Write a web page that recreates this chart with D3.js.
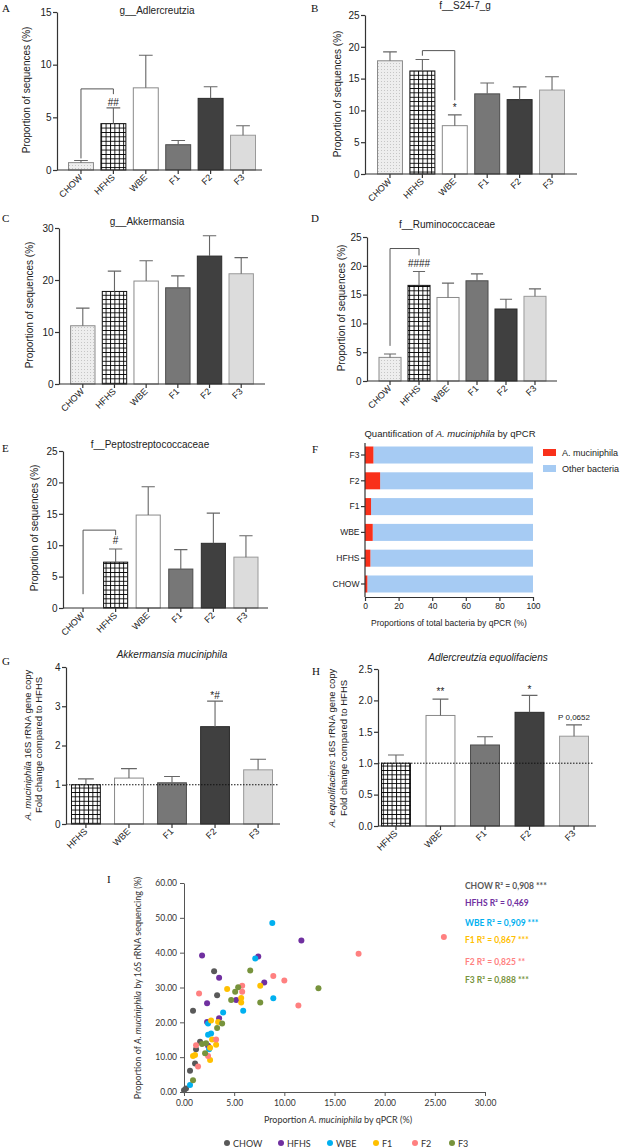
<!DOCTYPE html>
<html><head><meta charset="utf-8">
<script src="https://cdn.jsdelivr.net/npm/d3@7"></script>
<style>
body{margin:0;background:#fff}
svg{display:block}
text{font-family:"Liberation Sans",Arial,sans-serif}
</style>
</head><body>
<svg id="c" width="620" height="1147"></svg>
<script>
// ---------------- DATA ----------------
const groups6 = ["CHOW","HFHS","WBE","F1","F2","F3"];
const groups5 = ["HFHS","WBE","F1","F2","F3"];

const adlerMean = [0.7,4.4,7.8,2.4,6.8,3.3];
const adlerSem  = [0.2,1.5,3.1,0.4,1.1,0.9];
const s24Mean   = [17.8,16.2,7.6,12.6,11.7,13.2];
const s24Sem    = [1.4,1.8,1.7,1.7,2.0,2.1];
const akkMean   = [11.2,17.8,19.8,18.5,24.6,21.2];
const akkSem    = [3.4,3.9,3.9,2.3,3.9,3.1];
const rumMean   = [4.1,16.6,14.5,17.4,12.5,14.7];
const rumSem    = [0.6,2.4,2.5,1.2,1.7,1.3];
const pepMean   = [0,7.3,14.8,6.2,10.3,8.1];
const pepSem    = [0,2.1,4.5,3.1,4.8,3.4];

const qpcrCats  = ["F3","F2","F1","WBE","HFHS","CHOW"];
const qpcrAmuc  = [5.0,9.0,3.6,4.6,3.2,1.4];

const amucFoldMean = [1.0,1.17,1.05,2.48,1.38];
const amucFoldSem  = [0.15,0.24,0.16,0.65,0.27];
const adeqFoldMean = [1.0,1.76,1.29,1.81,1.43];
const adeqFoldSem  = [0.13,0.26,0.13,0.27,0.18];

const chowPts = [[3.0,34.7],[3.3,27.8],[0.9,23.3],[1.6,14.4],[1.2,12.3],[1.1,8.2],[0.6,6.1],[0.2,1.0],[0.0,0.5]];
const hfhsPts = [[11.7,43.5],[1.8,39.2],[7.4,38.9],[3.5,32.8],[8.0,31.4],[5.2,26.4],[2.3,25.5],[3.5,21.2],[2.3,20.1],[2.4,13.3]];
const wbePts  = [[8.8,48.5],[7.1,38.3],[8.9,26.9],[5.9,23.3],[3.9,22.8],[2.4,19.7],[2.7,16.8],[2.4,16.4],[2.5,12.3],[0.6,2.0]];
const f1Pts   = [[7.6,30.5],[4.3,29.6],[5.7,27.0],[5.7,25.7],[2.7,20.5],[3.4,20.1],[2.8,15.1],[3.2,13.6],[2.6,12.7],[1.1,10.6],[0.9,10.3],[2.6,9.2]];
const f2Pts   = [[25.9,44.5],[17.4,39.7],[8.9,33.3],[10.0,32.0],[5.8,30.5],[5.8,28.8],[1.5,28.3],[11.4,24.8],[3.2,15.1],[1.2,13.4],[2.4,10.3],[1.4,7.3]];
const f3Pts   = [[6.6,34.9],[13.4,29.8],[5.4,30.1],[5.1,28.8],[4.7,26.4],[7.6,25.7],[3.8,19.7],[3.3,18.4],[1.8,13.8],[2.2,14.0],[2.1,11.1],[0.9,3.4]];
const r2Vals  = [0.908,0.469,0.909,0.867,0.825,0.888];
const r2Sig   = ["***","","***","***","**","***"];

// ---------------- STYLE ----------------
const svg = d3.select("#c");
const defs = svg.append("defs");
const stip = defs.append("pattern").attr("id","stip").attr("patternUnits","userSpaceOnUse").attr("width",3).attr("height",3);
stip.append("rect").attr("width",3).attr("height",3).attr("fill","#eeeeee");
stip.append("rect").attr("width",1).attr("height",1).attr("fill","#c6c6c6");
const grid = defs.append("pattern").attr("id","grid").attr("patternUnits","userSpaceOnUse").attr("width",4.4).attr("height",4.4);
grid.append("rect").attr("width",4.4).attr("height",4.4).attr("fill","#fff");
grid.append("path").attr("d","M0,0.5H4.4M0.5,0V4.4").attr("stroke","#000").attr("stroke-width",0.9);

const barFill = {CHOW:"url(#stip)",HFHS:"url(#grid)",WBE:"#ffffff",F1:"#777777",F2:"#404040",F3:"#dcdcdc"};
const barStroke = {CHOW:"#8a8a8a",HFHS:"#111",WBE:"#8a8a8a",F1:"#4d4d4d",F2:"#2b2b2b",F3:"#9a9a9a"};
const grpColor = {CHOW:"#595959",HFHS:"#7030a0",WBE:"#00b0f0",F1:"#ffc000",F2:"#ff8080",F3:"#77933c"};
const AX = "#333";

function styleAxis(a, fs){
  a.attr("font-family",null).attr("font-size",null);
  a.selectAll(".domain").attr("stroke",AX).attr("stroke-width",1.2);
  a.selectAll(".tick line").attr("stroke",AX).attr("stroke-width",1.2);
  a.selectAll(".tick text").attr("fill","#222").style("font-size",fs+"px");
}

function letter(t,x,y){
  svg.append("text").attr("x",x).attr("y",y).text(t)
    .style("font-family",'"Liberation Serif","Times New Roman",serif').style("font-size","11px").attr("fill","#111");
}

function vlabel(lines, x0, dx, cy, fs){
  lines.forEach((parts,k)=>{
    const t = svg.append("text").attr("transform",`translate(${x0+k*dx},${cy}) rotate(-90)`)
      .attr("text-anchor","middle").style("font-size",fs+"px").attr("fill","#222");
    parts.forEach(p=>t.append("tspan").text(p[0]).style("font-style",p[1]?"italic":"normal"));
  });
}

function barPanel(L, D){
  const g = svg.append("g");
  const x = d3.scaleBand().domain(D.cats).range([L.bx0,L.bx1]).paddingInner(L.pi).paddingOuter(0);
  const y = d3.scaleLinear().domain([0,L.ymax]).range([L.y0,L.y1]);
  const bw = x.bandwidth();
  g.selectAll("rect.bar").data(D.cats).join("rect").attr("class","bar")
    .attr("x",d=>x(d)).attr("width",bw)
    .attr("y",(d,i)=>y(D.mean[i])).attr("height",(d,i)=>y(0)-y(D.mean[i]))
    .attr("fill",d=>barFill[d]).attr("stroke",d=>barStroke[d]).attr("stroke-width",1);
  const cw = bw*0.55;
  D.cats.forEach((c,i)=>{
    if(!D.sem[i]) return;
    const cx = x(c)+bw/2, yt = y(D.mean[i]+D.sem[i]);
    g.append("path").attr("d",`M${cx},${y(D.mean[i])}V${yt}M${cx-cw/2},${yt}H${cx+cw/2}`)
      .attr("stroke","#666").attr("stroke-width",1.1).attr("fill","none");
  });
  if(L.ref!=null){
    g.append("line").attr("x1",L.ax0).attr("x2",L.refEnd).attr("y1",y(L.ref)).attr("y2",y(L.ref))
      .attr("stroke","#111").attr("stroke-width",1).attr("stroke-dasharray","1.5,1.5");
  }
  if(D.bracket){
    const b = D.bracket;
    const xa = x(b.from)+bw/2, xb = x(b.to)+bw/2;
    g.append("path").attr("d",`M${xa},${y(b.leftEnd)}V${y(b.top)}H${xb}V${y(b.rightEnd)}`)
      .attr("fill","none").attr("stroke","#555").attr("stroke-width",1);
  }
  (D.marks||[]).forEach(m=>{
    g.append("text").attr("x",x(m.cat)+bw/2).attr("y",y(m.at)).attr("text-anchor","middle")
      .style("font-size",(m.fs||10)+"px").attr("fill","#222").text(m.text);
  });
  const ya = g.append("g").attr("transform",`translate(${L.ax0},0)`)
    .call(d3.axisLeft(y).tickValues(L.ticks).tickFormat(L.fmt||d3.format("d")).tickSize(4).tickSizeOuter(0).tickPadding(1.5));
  styleAxis(ya,10);
  const xa = g.append("g").attr("transform",`translate(0,${L.y0})`)
    .call(d3.axisBottom(x).tickSize(4).tickSizeOuter(0));
  styleAxis(xa,9);
  xa.select(".domain").attr("d",`M${L.ax0},0H${L.ax1}`);
  xa.selectAll(".tick text").attr("x",0).attr("y",0).attr("dy",0).attr("text-anchor","end")
    .attr("transform","translate(2,8) rotate(-45)");
  const tt = svg.append("text").attr("x",L.tx).attr("y",L.ty).attr("text-anchor","middle")
    .style("font-size","10px").attr("fill","#222");
  tt.text(L.title);
  if(L.titleItalic) tt.style("font-style","italic");
}

// ---------------- PANELS A–E, G, H ----------------
barPanel({bx0:68.5,bx1:255.5,pi:0.23,ax0:57,ax1:262,y0:170,y1:12,ymax:15,ticks:[0,5,10,15],title:"g__Adlercreutzia",tx:157,ty:14},
  {cats:groups6,mean:adlerMean,sem:adlerSem,bracket:{from:"CHOW",to:"HFHS",top:7.7,leftEnd:1.1,rightEnd:7.2},marks:[{cat:"HFHS",text:"##",at:6.1}]});
barPanel({bx0:377.5,bx1:564.5,pi:0.23,ax0:365,ax1:577,y0:174,y1:15,ymax:25,ticks:[0,5,10,15,20,25],title:"f__S24-7_g",tx:465,ty:9},
  {cats:groups6,mean:s24Mean,sem:s24Sem,bracket:{from:"HFHS",to:"WBE",top:19.4,leftEnd:18.6,rightEnd:11.6},marks:[{cat:"WBE",text:"*",at:9.9}]});
barPanel({bx0:70.6,bx1:253.4,pi:0.23,ax0:59,ax1:265,y0:384,y1:228,ymax:30,ticks:[0,10,20,30],title:"g__Akkermansia",tx:147,ty:225},
  {cats:groups6,mean:akkMean,sem:akkSem});
barPanel({bx0:379,bx1:546,pi:0.24,ax0:367,ax1:557,y0:381,y1:237,ymax:25,ticks:[0,5,10,15,20,25],title:"f__Ruminococcaceae",tx:447,ty:228},
  {cats:groups6,mean:rumMean,sem:rumSem,bracket:{from:"CHOW",to:"HFHS",top:23.0,leftEnd:6.1,rightEnd:21.8},marks:[{cat:"HFHS",text:"####",at:19.8}]});
barPanel({bx0:71,bx1:258,pi:0.26,ax0:63,ax1:268,y0:608,y1:451,ymax:25,ticks:[0,5,10,15,20,25],title:"f__Peptostreptococcaceae",tx:150,ty:448},
  {cats:groups6,mean:pepMean,sem:pepSem,bracket:{from:"CHOW",to:"HFHS",top:12.4,leftEnd:2.2,rightEnd:11.6},marks:[{cat:"HFHS",text:"#",at:10.2}]});
barPanel({bx0:71.5,bx1:272.5,pi:0.33,ax0:66,ax1:280,y0:824,y1:667,ymax:4,ticks:[0,1,2,3,4],title:"Akkermansia muciniphila",titleItalic:true,tx:172,ty:658,ref:1,refEnd:278},
  {cats:groups5,mean:amucFoldMean,sem:amucFoldSem,marks:[{cat:"F2",text:"*#",at:3.18}]});
barPanel({bx0:381.5,bx1:588.5,pi:0.35,ax0:378,ax1:596,y0:826,y1:669,ymax:2.5,ticks:[0,0.5,1,1.5,2,2.5],fmt:d3.format(".1f"),title:"Adlercreutzia equolifaciens",titleItalic:true,tx:488,ty:661,ref:1,refEnd:593},
  {cats:groups5,mean:adeqFoldMean,sem:adeqFoldSem,marks:[{cat:"WBE",text:"**",at:2.08},{cat:"F2",text:"*",at:2.12},{cat:"F3",text:"P 0,0652",at:1.68,fs:8}]});

// y labels
const seqLab = [[["Proportion of sequences (%)",false]]];
vlabel(seqLab,30,0,90,10);
vlabel(seqLab,341,0,94,10);
vlabel(seqLab,33,0,305,10);
vlabel(seqLab,345,0,308,10);
vlabel(seqLab,38,0,528,10);
vlabel([[["A. muciniphila",true],[" 16S rRNA gene copy",false]],[["Fold change compared to HFHS",false]]],31,11,745,9.5);
vlabel([[["A. equolifaciens",true],[" 16S rRNA gene copy",false]],[["Fold change compared to HFHS",false]]],335,12,748,9.5);

// ---------------- PANEL F ----------------
{
  const g = svg.append("g");
  const yF = d3.scaleBand().domain(qpcrCats).range([446.5,592.5]).paddingInner(0.34).paddingOuter(0);
  const xF = d3.scaleLinear().domain([0,100]).range([365,533]);
  g.selectAll("rect.o").data(qpcrCats).join("rect").attr("class","o")
    .attr("x",(d,i)=>xF(qpcrAmuc[i])).attr("width",(d,i)=>xF(100)-xF(qpcrAmuc[i]))
    .attr("y",d=>yF(d)).attr("height",yF.bandwidth()).attr("fill","#a6cbf3");
  g.selectAll("rect.a").data(qpcrCats).join("rect").attr("class","a")
    .attr("x",xF(0)).attr("width",(d,i)=>xF(qpcrAmuc[i])-xF(0))
    .attr("y",d=>yF(d)).attr("height",yF.bandwidth()).attr("fill","#f9301a");
  const ya = g.append("g").attr("transform","translate(365,0)").call(d3.axisLeft(yF).tickSize(4).tickSizeOuter(0).tickPadding(1.5));
  styleAxis(ya,8.5);
  ya.select(".domain").attr("d","M0,443V597");
  const xa = g.append("g").attr("transform","translate(0,597)").call(d3.axisBottom(xF).tickValues([0,20,40,60,80,100]).tickSize(4).tickSizeOuter(0).tickPadding(2));
  styleAxis(xa,8.5);
  const t = svg.append("text").attr("x",450).attr("y",437).attr("text-anchor","middle").style("font-size","9.5px").attr("fill","#222");
  t.append("tspan").text("Quantification of ");
  t.append("tspan").text("A. muciniphila").style("font-style","italic");
  t.append("tspan").text(" by qPCR");
  svg.append("text").attr("x",449).attr("y",626).attr("text-anchor","middle").style("font-size","8.5px").attr("fill","#222")
    .text("Proportions of total bacteria by qPCR (%)");
  const leg = [["A. muciniphila","#f9301a",449],["Other bacteria","#a6cbf3",465]];
  leg.forEach(l=>{
    svg.append("rect").attr("x",543).attr("y",l[2]).attr("width",13).attr("height",7).attr("fill",l[1]);
    svg.append("text").attr("x",562).attr("y",l[2]+7).style("font-size","9px").attr("fill","#222").text(l[0]);
  });
}

// ---------------- PANEL I ----------------
{
  const F = 'Lato,"Open Sans",sans-serif';
  const g = svg.append("g");
  const xs = d3.scaleLinear().domain([0,30]).range([184,485]);
  const ys = d3.scaleLinear().domain([0,60]).range([1092,883]);
  const ya = g.append("g").attr("transform","translate(184,0)")
    .call(d3.axisLeft(ys).tickValues([0,10,20,30,40,50,60]).tickFormat(d3.format(".2f")).tickSize(4).tickSizeOuter(0).tickPadding(3));
  const xa = g.append("g").attr("transform","translate(0,1092)")
    .call(d3.axisBottom(xs).tickValues([0,5,10,15,20,25,30]).tickFormat(d3.format(".2f")).tickSize(4).tickSizeOuter(0).tickPadding(4));
  [ya,xa].forEach(a=>{
    a.attr("font-family",null).attr("font-size",null);
    a.selectAll(".domain,.tick line").attr("stroke","#555").attr("stroke-width",1);
    a.selectAll(".tick text").attr("fill","#333").style("font-family",F).style("font-size","8.5px");
  });
  const sets = [["CHOW",chowPts],["HFHS",hfhsPts],["WBE",wbePts],["F1",f1Pts],["F2",f2Pts],["F3",f3Pts]];
  sets.forEach(s=>{
    g.selectAll(null).data(s[1]).join("circle")
      .attr("cx",d=>xs(d[0])).attr("cy",d=>ys(d[1])).attr("r",3).attr("fill",grpColor[s[0]]);
  });
  const xt = svg.append("text").attr("x",338).attr("y",1123).attr("text-anchor","middle").style("font-family",F).style("font-size","9px").attr("fill","#333");
  xt.append("tspan").text("Proportion ");
  xt.append("tspan").text("A. muciniphila").style("font-style","italic");
  xt.append("tspan").text(" by qPCR (%)");
  const yt = svg.append("text").attr("transform","translate(141,988) rotate(-90)").attr("text-anchor","middle").style("font-family",F).style("font-size","9px").attr("fill","#333");
  yt.append("tspan").text("Proportion of ");
  yt.append("tspan").text("A. muciniphila").style("font-style","italic");
  yt.append("tspan").text(" by 16S rRNA sequencing (%)");
  // R² labels
  const r2y = [889,906,926,943,965,983];
  groups6.forEach((gname,i)=>{
    svg.append("text").attr("x",465).attr("y",r2y[i]).style("font-family",F).style("font-size","8.5px").style("font-weight","bold")
      .attr("fill",grpColor[gname])
      .text(`${gname} R² = ${String(r2Vals[i]).replace(".",",")}${r2Sig[i]?" "+r2Sig[i]:""}`);
  });
  // legend
  const lx = [227,281,330,376,415,452];
  groups6.forEach((gname,i)=>{
    svg.append("circle").attr("cx",lx[i]).attr("cy",1143).attr("r",3).attr("fill",grpColor[gname]);
    svg.append("text").attr("x",lx[i]+6).attr("y",1146.5).style("font-family",F).style("font-size","9px").attr("fill","#333").text(gname);
  });
}

// panel letters
letter("A",2,12); letter("B",311,12); letter("C",2,222); letter("D",311,222);
letter("E",2,452); letter("F",312,453); letter("G",2,665); letter("H",312,675); letter("I",107,883);
</script>
</body></html>
